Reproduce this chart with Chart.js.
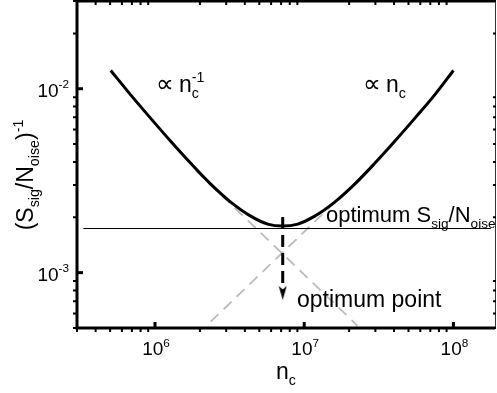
<!DOCTYPE html>
<html>
<head>
<meta charset="utf-8">
<script src="https://cdn.jsdelivr.net/npm/chart.js@4"></script>
<style>
  html, body { margin: 0; padding: 0; background: #fff; }
</style>
</head>
<body>
<canvas id="chart" width="497" height="393"></canvas>
<script>
// values (log-log)
const curveN   = [5.05e5, 6.87e5, 9.36e5, 1.274e6, 1.735e6, 2.362e6, 3.217e6, 4.379e6, 5.692e6, 7.177e6,
                  9.05e6, 1.176e7, 1.601e7, 2.18e7, 2.969e7, 4.043e7, 5.505e7, 7.494e7, 1.0e8];
const curveInv = [1.257e-2, 9.26e-3, 6.90e-3, 5.18e-3, 3.93e-3, 3.03e-3, 2.42e-3, 2.03e-3, 1.837e-3, 1.791e-3,
                  1.837e-3, 2.03e-3, 2.42e-3, 3.03e-3, 3.93e-3, 5.18e-3, 6.90e-3, 9.26e-3, 1.257e-2];

const fallN  = [1.875e6, 2.28e7];   // grey dashed, ∝ 1/n_c
const fallY  = [3.59e-3, 5.14e-4];
const riseN  = [2.36e6, 3.01e7];    // grey dashed, ∝ n_c
const riseY  = [5.41e-4, 3.94e-3];
const levelN = [3.31e5, 1.78e8];    // optimum S/N level
const levelY = [1.738e-3, 1.738e-3];
const dropN  = [7.177e6, 7.177e6];  // dashed arrow down to optimum point
const dropY  = [2.01e-3, 8.47e-4];
const tipN   = [7.177e6];
const tipY   = [7.76e-4];

const xTicks = [1e6, 1e7, 1e8];
const xTickExp = ['6', '7', '8'];
const yTicks = [1e-3, 1e-2];
const yTickExp = ['-3', '-2'];

const FONT = '"Liberation Sans", Arial, Helvetica, sans-serif';
const pts = (xs, ys) => xs.map((x, i) => ({ x, y: ys[i] }));

// small filled arrow head used as point style
const arrowHead = document.createElement('canvas');
arrowHead.width = 9;
arrowHead.height = 14;
(() => {
  const a = arrowHead.getContext('2d');
  a.fillStyle = '#000';
  a.beginPath();
  a.moveTo(0.5, 0);
  a.lineTo(4.5, 3.5);
  a.lineTo(8.5, 0);
  a.lineTo(4.5, 14);
  a.closePath();
  a.fill();
})();

const SMALL = 0.62;

function richWidth(ctx, parts, size) {
  let w = 0;
  for (const p of parts) {
    ctx.font = `${size}px ${FONT}`;
    w += ctx.measureText(p.t).width;
    ctx.font = `${size * SMALL}px ${FONT}`;
    w += Math.max(p.sub ? ctx.measureText(p.sub).width : 0, p.sup ? ctx.measureText(p.sup).width : 0);
  }
  return w;
}

function drawRich(ctx, parts, x, y, size, align) {
  let cx = x;
  if (align === 'center') cx -= richWidth(ctx, parts, size) / 2;
  if (align === 'right') cx -= richWidth(ctx, parts, size);
  ctx.textAlign = 'left';
  ctx.textBaseline = 'alphabetic';
  for (const p of parts) {
    ctx.font = `${size}px ${FONT}`;
    ctx.fillText(p.t, cx, y);
    cx += ctx.measureText(p.t).width;
    ctx.font = `${size * SMALL}px ${FONT}`;
    let w = 0;
    if (p.sub) {
      ctx.fillText(p.sub, cx, y + size * 0.25);
      w = ctx.measureText(p.sub).width;
    }
    if (p.sup) {
      ctx.fillText(p.sup, cx, y - size * 0.44);
      w = Math.max(w, ctx.measureText(p.sup).width);
    }
    cx += w;
  }
}

const framePlugin = {
  id: 'frame',
  afterDraw(chart) {
    const ctx = chart.ctx;
    const xs = chart.scales.x, ys = chart.scales.y;
    const { left, right, top, bottom } = chart.chartArea;

    ctx.save();
    ctx.strokeStyle = '#000';
    ctx.fillStyle = '#000';
    ctx.lineCap = 'butt';

    // frame
    ctx.lineWidth = 3;
    ctx.beginPath();
    ctx.moveTo(left, top); ctx.lineTo(right, top);
    ctx.moveTo(left, top - 1.5); ctx.lineTo(left, bottom + 1.5);
    ctx.moveTo(left - 1.5, bottom); ctx.lineTo(right, bottom);
    ctx.stroke();
    ctx.lineWidth = 1;
    ctx.strokeStyle = '#333';
    ctx.beginPath();
    ctx.moveTo(right + 0.5, top); ctx.lineTo(right + 0.5, bottom);
    ctx.stroke();
    ctx.strokeStyle = '#000';

    // x ticks: majors inward, minors outward + mirrored on top
    for (let e = 5; e <= 8; e++) {
      for (let m = 1; m <= 9; m++) {
        const v = m * Math.pow(10, e);
        if (v < xs.min || v > xs.max) continue;
        const px = xs.getPixelForValue(v);
        if (m === 1) {
          ctx.lineWidth = 3;
          ctx.beginPath();
          ctx.moveTo(px, bottom); ctx.lineTo(px, bottom - 6);
          ctx.stroke();
        } else {
          ctx.lineWidth = 2;
          ctx.beginPath();
          ctx.moveTo(px, bottom); ctx.lineTo(px, bottom + 4);
          ctx.moveTo(px, top); ctx.lineTo(px, top + 4);
          ctx.stroke();
        }
      }
    }
    // y ticks
    for (let e = -4; e <= -2; e++) {
      for (let m = 1; m <= 9; m++) {
        const v = m * Math.pow(10, e);
        if (v < ys.min || v > ys.max) continue;
        const py = ys.getPixelForValue(v);
        if (m === 1) {
          ctx.lineWidth = 3;
          ctx.beginPath();
          ctx.moveTo(left, py); ctx.lineTo(left + 6, py);
          ctx.stroke();
        } else {
          ctx.lineWidth = 2;
          ctx.beginPath();
          ctx.moveTo(left, py); ctx.lineTo(left - 4, py);
          ctx.moveTo(right + 1, py); ctx.lineTo(right - 2, py);
          ctx.stroke();
        }
      }
    }

    // tick labels
    xTicks.forEach((v, i) => {
      drawRich(ctx, [{ t: '10', sup: xTickExp[i] }], xs.getPixelForValue(v) + 1, bottom + 27, 19, 'center');
    });
    yTicks.forEach((v, i) => {
      drawRich(ctx, [{ t: '10', sup: yTickExp[i] }], left - 8, ys.getPixelForValue(v) + 8, 19, 'right');
    });

    // axis titles
    drawRich(ctx, [{ t: 'n', sub: 'c' }], (left + right) / 2, bottom + 51, 23, 'center');
    ctx.save();
    ctx.translate(33, 175);
    ctx.rotate(-Math.PI / 2);
    drawRich(ctx, [{ t: '(S', sub: 'sig' }, { t: '/N', sub: 'oise' }, { t: ')', sup: '-1' }], 0, 0, 23, 'center');
    ctx.restore();

    // annotations
    ctx.textAlign = 'left';
    ctx.font = `25px "DejaVu Sans", ${FONT}`;
    ctx.fillText('\u221D', 156, 92);
    drawRich(ctx, [{ t: 'n', sub: 'c', sup: '-1' }], 179, 92, 23, 'left');
    ctx.font = `25px "DejaVu Sans", ${FONT}`;
    ctx.fillText('\u221D', 363, 92);
    drawRich(ctx, [{ t: 'n', sub: 'c' }], 386, 92, 23, 'left');

    drawRich(ctx, [{ t: 'optimum S', sub: 'sig' }, { t: '/N', sub: 'oise' }], 326, 222, 22, 'left');
    drawRich(ctx, [{ t: 'optimum point' }], 297, 307, 23, 'left');

    ctx.restore();
  },
};

new Chart(document.getElementById('chart'), {
  type: 'line',
  data: {
    datasets: [
      {
        data: pts(curveN, curveInv),
        borderColor: '#000',
        borderWidth: 3,
        pointRadius: 0,
        cubicInterpolationMode: 'monotone',
        order: 0,
      },
      {
        data: pts(dropN, dropY),
        borderColor: '#000',
        borderWidth: 3,
        borderDash: [12, 6],
        pointRadius: 0,
        order: 1,
      },
      {
        data: pts(tipN, tipY),
        showLine: false,
        pointStyle: arrowHead,
        pointRadius: 5,
        order: 1,
      },
      {
        data: pts(levelN, levelY),
        borderColor: '#000',
        borderWidth: 1.2,
        pointRadius: 0,
        order: 2,
      },
      {
        data: pts(fallN, fallY),
        borderColor: '#bbbbbb',
        borderWidth: 1.8,
        borderDash: [11, 7],
        pointRadius: 0,
        order: 3,
      },
      {
        data: pts(riseN, riseY),
        borderColor: '#bbbbbb',
        borderWidth: 1.8,
        borderDash: [11, 7],
        pointRadius: 0,
        order: 3,
      },
    ],
  },
  options: {
    responsive: false,
    animation: false,
    devicePixelRatio: 1,
    layout: { autoPadding: false, padding: { left: 77, top: 1, right: 2, bottom: 65 } },
    plugins: {
      legend: { display: false },
      tooltip: { enabled: false },
    },
    scales: {
      x: { type: 'logarithmic', display: false, min: 3e5, max: 1.9e8 },
      y: { type: 'logarithmic', display: false, min: 5e-4, max: 3e-2 },
    },
  },
  plugins: [framePlugin],
});
</script>
</body>
</html>
